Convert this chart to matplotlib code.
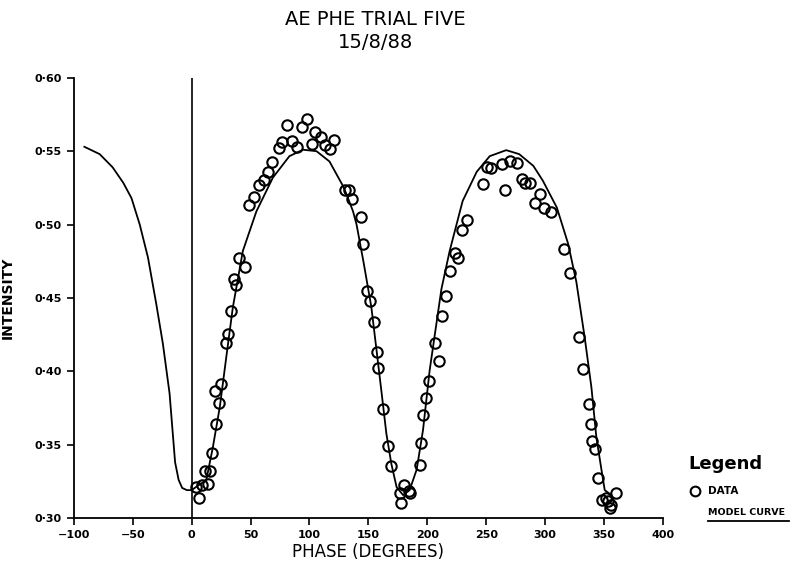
import matplotlib.pyplot as plt
from matplotlib.lines import Line2D
from matplotlib.ticker import FuncFormatter

plt.rcParams['font.family'] = ['DejaVu Sans']

# measured data points (phase in degrees, intensity)
data_phase = [4.0, 6.2, 8.7, 11.0, 13.8, 15.3, 17.2, 20.1, 21.0, 23.2, 25.2, 29.5,
              30.8, 33.4, 35.7, 37.9, 40.2, 45.0, 48.6, 52.9, 56.9, 61.1, 64.8,
              68.5, 73.9, 76.7, 81.2, 85.1, 89.4, 93.6, 97.6, 102.1, 105.0, 109.5,
              113.5, 117.1, 120.8, 129.9, 133.3, 136.1, 143.5, 145.8, 148.9, 151.5,
              154.5, 157.3, 158.2, 162.4, 166.6, 169.5, 177.2, 178.0, 180.0, 184.2,
              185.7, 193.5, 195.0, 196.7, 198.6, 201.2, 206.3, 209.9, 212.8, 216.2,
              219.0, 223.3, 226.1, 229.5, 233.7, 247.3, 251.0, 254.4, 263.4, 266.3,
              270.5, 276.1, 280.4, 283.3, 286.9, 291.8, 295.4, 298.8, 305.3, 316.0,
              320.9, 328.8, 332.2, 337.3, 339.3, 339.8, 342.7, 344.9, 348.6, 352.0,
              353.4, 354.8, 356.3, 360.5]
data_int = [0.3209, 0.3138, 0.3224, 0.3321, 0.3229, 0.3321, 0.3440, 0.3863, 0.3643,
            0.3783, 0.3915, 0.4191, 0.4255, 0.4408, 0.4630, 0.4590, 0.4775, 0.4712,
            0.5133, 0.5188, 0.5267, 0.5301, 0.5357, 0.5427, 0.5522, 0.5563, 0.5677,
            0.5568, 0.5529, 0.5663, 0.5722, 0.5552, 0.5631, 0.5597, 0.5541, 0.5512,
            0.5579, 0.5235, 0.5235, 0.5176, 0.5050, 0.4870, 0.4549, 0.4481, 0.4334,
            0.4130, 0.4021, 0.3745, 0.3491, 0.3353, 0.3168, 0.3104, 0.3224, 0.3183,
            0.3172, 0.3360, 0.3510, 0.3700, 0.3819, 0.3934, 0.4191, 0.4069, 0.4379,
            0.4515, 0.4685, 0.4809, 0.4775, 0.4963, 0.5029, 0.5274, 0.5393, 0.5387,
            0.5414, 0.5235, 0.5432, 0.5421, 0.5312, 0.5285, 0.5285, 0.5149, 0.5206,
            0.5115, 0.5088, 0.4832, 0.4673, 0.4232, 0.4017, 0.3779, 0.3643, 0.3525,
            0.3467, 0.3270, 0.3122, 0.3134, 0.3115, 0.3066, 0.3088, 0.3172]

# model curve
model_phase = [-91, -78, -67, -58, -51, -44, -37, -30, -24.4, -18.7, -14, -11, -8, -4,
               0, 12.5, 18, 24, 29.5, 35, 43.5, 55, 69, 83, 94.5, 106, 117, 128, 131.3,
               137, 140, 146, 152.5, 157, 161, 165.3, 169.5, 174, 179.5, 185, 191,
               196.4, 202, 212, 219, 230, 242, 253, 267, 278, 290, 298, 310, 319.5,
               326.5, 333.6, 339.3, 343.5, 347.8, 350.6, 356.3]
model_int = [0.553, 0.548, 0.539, 0.5285, 0.518, 0.500, 0.4775, 0.446, 0.419, 0.385,
             0.338, 0.326, 0.3205, 0.319, 0.319, 0.326, 0.348, 0.376, 0.410, 0.4435,
             0.482, 0.509, 0.532, 0.5466, 0.551, 0.550, 0.543, 0.527, 0.521, 0.509,
             0.500, 0.474, 0.444, 0.414, 0.387, 0.3575, 0.337, 0.321, 0.3156, 0.319,
             0.333, 0.360, 0.4005, 0.456, 0.482, 0.516, 0.536, 0.5466, 0.5507, 0.548,
             0.540, 0.530, 0.5115, 0.487, 0.461, 0.423, 0.389, 0.355, 0.333, 0.319,
             0.3156]

x_ticks = [-100, -50, 0, 50, 100, 150, 200, 250, 300, 350, 400]
y_ticks = [0.30, 0.35, 0.40, 0.45, 0.50, 0.55, 0.60]

fig = plt.figure(figsize=(7.93, 5.68), dpi=100)
ax = fig.add_axes([0.093, 0.088, 0.743, 0.775])

ax.plot(model_phase, model_int, color='black', lw=1.3)
ax.plot(data_phase, data_int, 'o', mfc='none', mec='black', ms=7.5, mew=1.5)
ax.axvline(0, color='black', lw=1.2)

ax.set_xlim(-100, 400)
ax.set_ylim(0.30, 0.60)
ax.set_xticks(x_ticks)
ax.set_yticks(y_ticks)
ax.yaxis.set_major_formatter(FuncFormatter(lambda v, p: f"{v:.2f}".replace('.', '\u00b7')))
ax.tick_params(direction='out', length=5, width=1.2, labelsize=8)
for lab in ax.get_xticklabels() + ax.get_yticklabels():
    lab.set_fontweight('bold')
ax.spines['top'].set_visible(False)
ax.spines['right'].set_visible(False)
ax.spines['left'].set_linewidth(1.3)
ax.spines['bottom'].set_linewidth(1.3)

ax.set_xlabel('PHASE (DEGREES)', fontsize=12, labelpad=2)
ax.set_ylabel('INTENSITY', fontsize=10, fontweight='bold', labelpad=14)

fig.text(0.473, 0.965, 'AE PHE TRIAL FIVE', ha='center', va='center', fontsize=14)
fig.text(0.473, 0.925, '15/8/88', ha='center', va='center', fontsize=14)

# legend drawn by hand, like the original plotter output
fig.text(0.868, 0.183, 'Legend', fontsize=13, fontweight='bold', va='center')
fig.add_artist(Line2D([0.876], [0.136], marker='o', mfc='none', mec='black',
                      ms=7, mew=1.5, transform=fig.transFigure))
fig.text(0.893, 0.136, 'DATA', fontsize=7.5, fontweight='bold', va='center')
fig.text(0.893, 0.097, 'MODEL CURVE', fontsize=6.8, fontweight='bold', va='center')
fig.add_artist(Line2D([0.893, 0.995], [0.083, 0.083], color='black', lw=1.3,
                      transform=fig.transFigure))

fig.savefig('out.png', dpi=100)
